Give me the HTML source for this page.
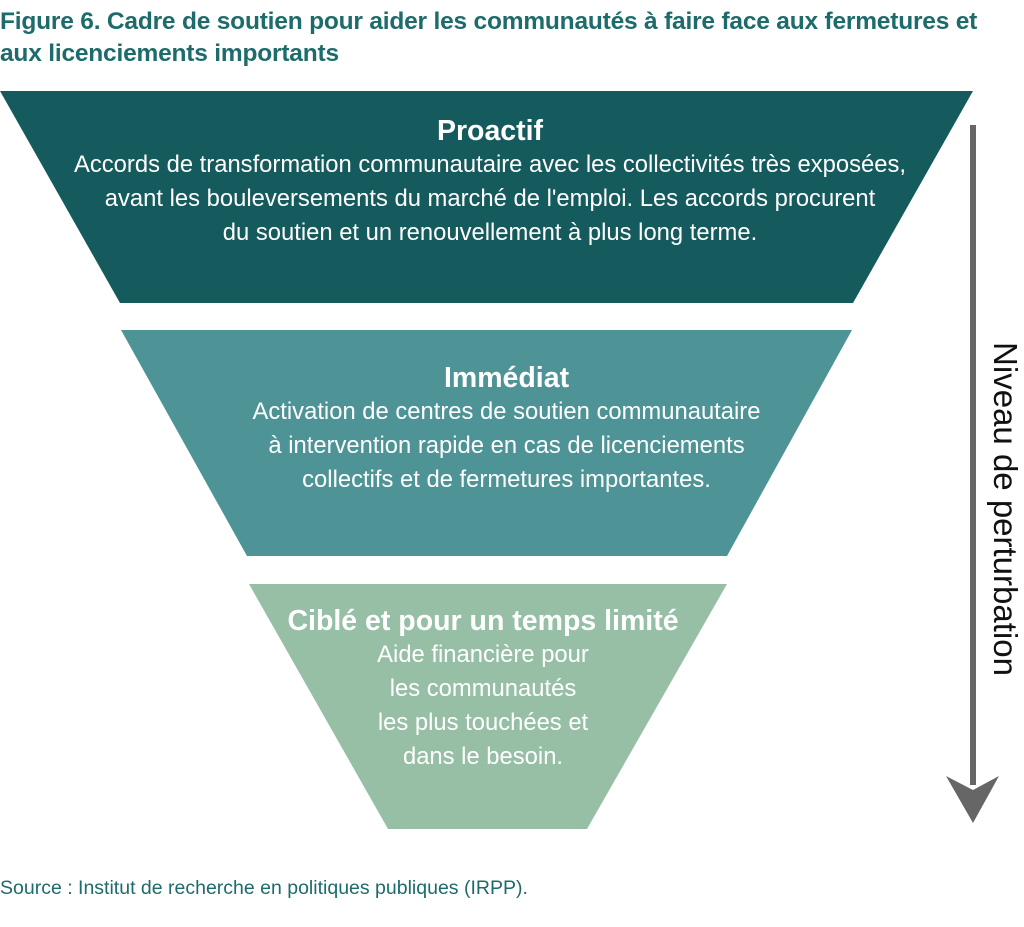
<!DOCTYPE html>
<html><head><meta charset="utf-8"><style>
body{margin:0;width:1024px;height:927px;background:#fff;overflow:hidden;position:relative;font-family:"Liberation Sans",sans-serif}
.t{position:absolute;left:0;top:6px;color:#1d6b6b;font-size:24.5px;font-weight:bold;line-height:32px;letter-spacing:-0.2px;white-space:nowrap}
.tx{position:absolute;color:#fff;text-align:center;font-size:23.8px;line-height:34px;white-space:nowrap}
.tx b{display:block;font-size:28.5px;line-height:34px}
.src{position:absolute;left:0;top:877px;color:#1d6b6b;font-size:19.5px;white-space:nowrap}
.v{position:absolute;left:1005px;top:509px;transform:translate(-50%,-50%) rotate(90deg);font-size:33px;color:#111;white-space:nowrap}
</style></head><body>
<div class="t">Figure 6. Cadre de soutien pour aider les communautés à faire face aux fermetures et<br>aux licenciements importants</div>
<svg width="1024" height="927" style="position:absolute;left:0;top:0">
<polygon points="0,91 973,91 853,303 120,303" fill="#155a5c"/>
<polygon points="121,330 852,330 727,556 247,556" fill="#4e9497"/>
<polygon points="249,584 727,584 587,829 388,829" fill="#96bfa6"/>
<line x1="973" y1="125" x2="973" y2="785" stroke="#666" stroke-width="6"/>
<polygon points="946,776 973,790 999,776 973,823" fill="#666"/>
</svg>
<div class="tx" style="left:0;width:980px;top:114px"><b>Proactif</b>Accords de transformation communautaire avec les collectivités très exposées,<br>avant les bouleversements du marché de l'emploi. Les accords procurent<br>du soutien et un renouvellement à plus long terme.</div>
<div class="tx" style="left:141px;width:731px;top:361px"><b>Immédiat</b>Activation de centres de soutien communautaire<br>à intervention rapide en cas de licenciements<br>collectifs et de fermetures importantes.</div>
<div class="tx" style="left:249px;width:468px;top:604px"><b>Ciblé et pour un temps limité</b>Aide financière pour<br>les communautés<br>les plus touchées et<br>dans le besoin.</div>
<div class="v">Niveau de perturbation</div>
<div class="src">Source : Institut de recherche en politiques publiques (IRPP).</div>
</body></html>
